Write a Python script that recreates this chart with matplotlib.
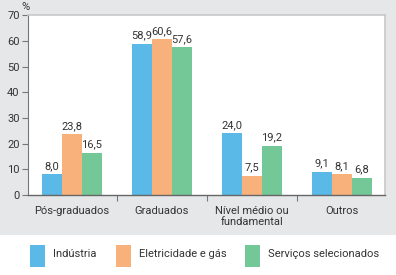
import matplotlib.pyplot as plt
import numpy as np
from matplotlib.patches import Rectangle

plt.rcParams['font.family'] = ['Roboto', 'DejaVu Sans']

categories = ["Pós-graduados", "Graduados", "Nível médio ou\nfundamental", "Outros"]
series_names = ["Indústria", "Eletricidade e gás", "Serviços selecionados"]
industria = [8.0, 58.9, 24.0, 9.1]
eletricidade = [23.8, 60.6, 7.5, 8.1]
servicos = [16.5, 57.6, 19.2, 6.8]
yticks = [0, 10, 20, 30, 40, 50, 60, 70]

colors = ["#5ab9e6", "#f9b17b", "#74c796"]
text_color = "#333333"
bg_gray = "#e6e7e8"
fs = 8

fig = plt.figure(figsize=(3.96, 2.75), dpi=100)
fig.patch.set_facecolor("white")
fig.add_artist(Rectangle((0, 0.145), 1, 0.855, transform=fig.transFigure,
                         facecolor=bg_gray, edgecolor="none", zorder=-10))

ax = fig.add_axes([0.0707, 0.291, 0.9015, 0.654])
ax.set_facecolor("white")

x = np.arange(len(categories))
width = 0.222
for i, (vals, col) in enumerate(zip([industria, eletricidade, servicos], colors)):
    pos = x + (i - 1) * width
    ax.bar(pos, vals, width=width, color=col, edgecolor="none", zorder=2)
    for px, v in zip(pos, vals):
        ax.text(px, v + 1.2, f"{v:.1f}".replace(".", ","), ha="center", va="bottom",
                fontsize=fs, color=text_color)

ax.set_xlim(-0.49, 3.48)
ax.set_ylim(0, 70)
ax.set_yticks(yticks)
ax.set_yticklabels([str(t) for t in yticks], fontsize=fs, color=text_color)
ax.tick_params(axis="y", length=4, width=0.8, color="#777777", pad=2)

ax.set_xticks([0.5, 1.5, 2.5])
ax.set_xticklabels([])
ax.tick_params(axis="x", which="major", length=4, width=0.8, color="#777777", direction="out")
ax.set_xticks(x, minor=True)
ax.set_xticklabels(categories, minor=True, fontsize=fs, color=text_color, linespacing=1.15)
ax.tick_params(axis="x", which="minor", length=0, pad=8)

for side in ["top", "right"]:
    ax.spines[side].set_color("#c8c8c8")
    ax.spines[side].set_linewidth(1.2)
ax.spines["left"].set_color("#777777")
ax.spines["left"].set_linewidth(0.8)
ax.spines["bottom"].set_color("#666666")
ax.spines["bottom"].set_linewidth(1.0)

fig.text(0.055, 0.975, "%", fontsize=fs, color=text_color, ha="left", va="center")

# legend drawn by hand so the swatch positions follow the reference
legend_x = [0.076, 0.293, 0.619]
for lx, name, col in zip(legend_x, series_names, colors):
    fig.add_artist(Rectangle((lx, 0.028), 0.038, 0.08, transform=fig.transFigure,
                             facecolor=col, edgecolor="none"))
    fig.text(lx + 0.058, 0.078, name, fontsize=fs, color=text_color, ha="left", va="center")

fig.savefig("out.png", dpi=100)
